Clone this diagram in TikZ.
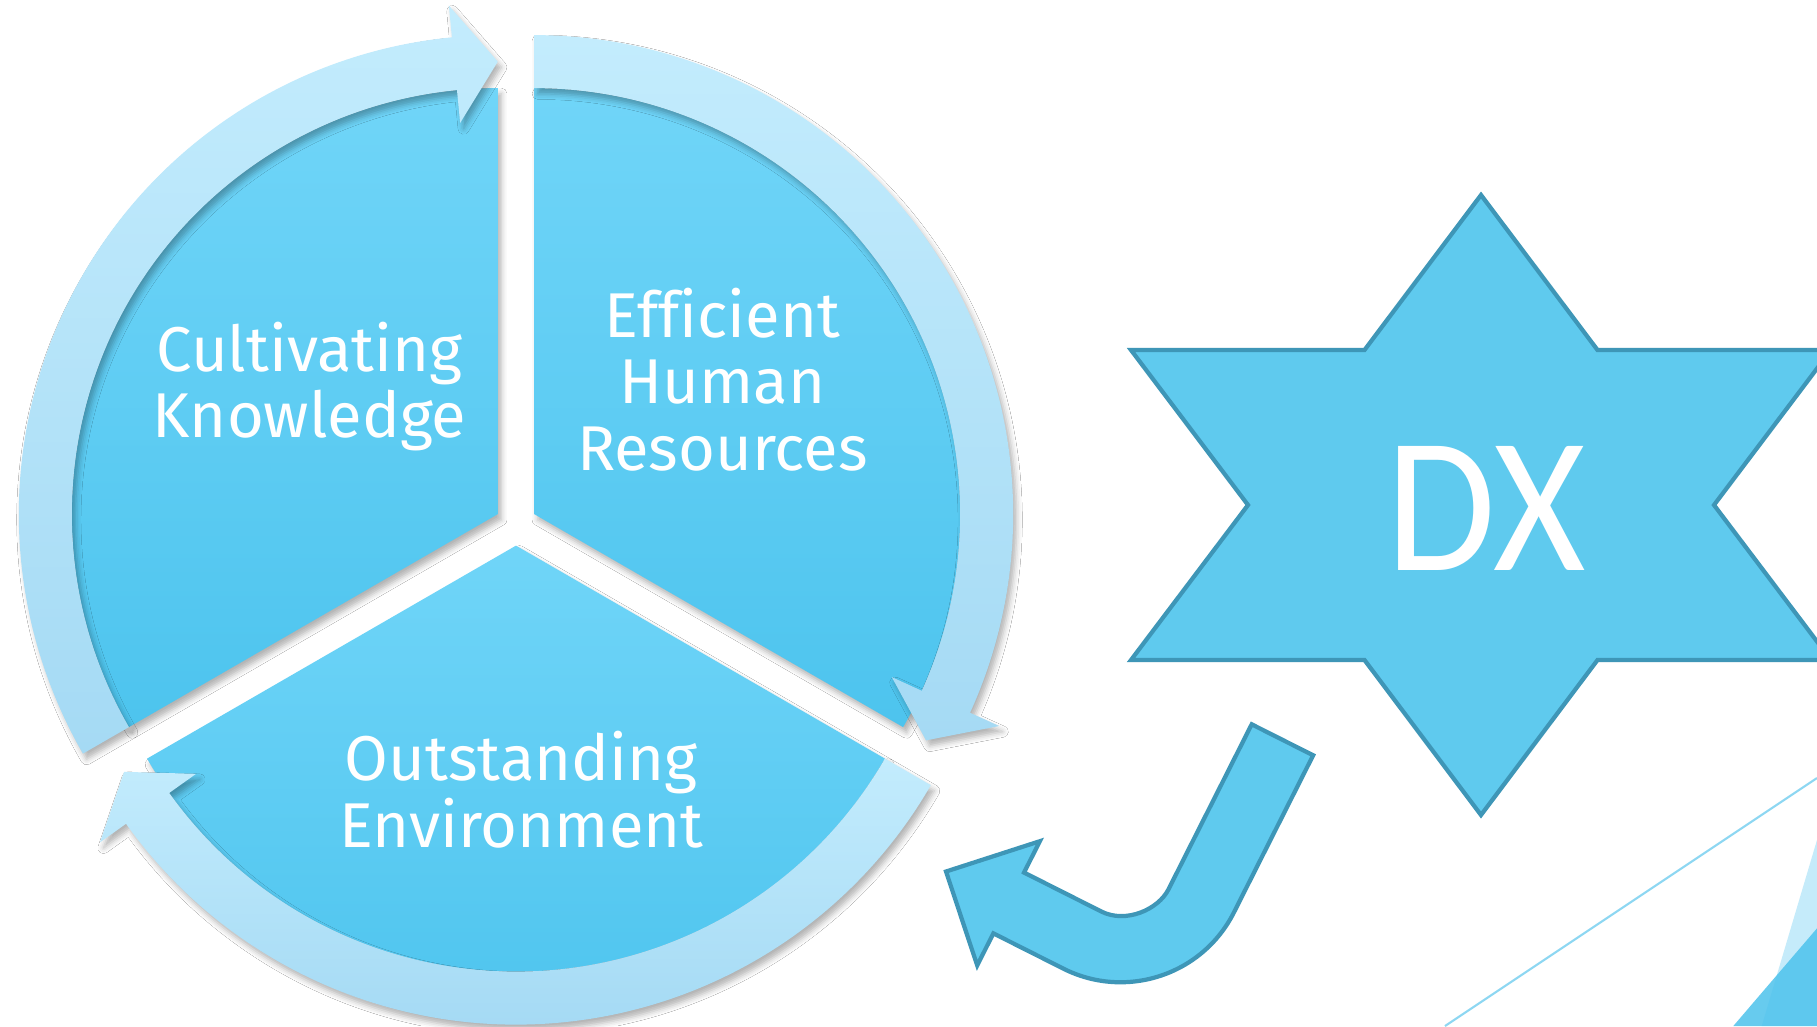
\documentclass[tikz,border=0pt]{standalone}
\usepackage{fontspec}
\setmainfont[Ligatures=NoCommon]{Fira Sans}
\newfontfamily\dxfont{Carlito}
\usetikzlibrary{shadows.blur}
\definecolor{segtop}{HTML}{70D5F8}
\definecolor{segbot}{HTML}{4DC4EE}
\definecolor{bandtop}{HTML}{C3ECFD}
\definecolor{bandbot}{HTML}{A5DAF4}
\definecolor{starfill}{HTML}{5FCAEE}
\definecolor{starline}{HTML}{3E96B7}
\definecolor{decoline}{HTML}{8DD7F2}
\definecolor{tria}{HTML}{C5EBFA}
\definecolor{trib}{HTML}{4DC2EC}
\tikzset{
  softshadow/.style={blur shadow={shadow xshift=1pt, shadow yshift=-1.6pt, shadow blur radius=1.6pt, shadow opacity=30}},
  segshade/.style={softshadow, top color=segtop, bottom color=segbot},
  bandshade/.style={softshadow, top color=bandtop, bottom color=bandbot},
  lbl/.style={text=white, font=\fontsize{18}{20}\selectfont, inner sep=0pt, anchor=base},
  outlined/.style={fill=starfill, draw=starline, line width=1.2pt}
}
\begin{document}
\begin{tikzpicture}[x=0.01cm, y=0.01cm]
\useasboundingbox (0,-1026) rectangle (1817,0);
\fill[white] (0,-1026) rectangle (1817,0);

% corner decoration
\draw[decoline, line width=0.6pt] (1445,-1026) -- (1817,-778);
\fill[tria] (1817,-840) -- (1761.7,-1026) -- (1817,-1026) -- cycle;
\fill[trib, opacity=0.85] (1817,-928.3) -- (1733.3,-1026) -- (1817,-1026) -- cycle;

% segmented cycle
\begin{scope}[shift={(516,-524.6)}]
  \foreach \th in {150,30,270}{
    \begin{scope}[shift={(\th:21)}]
      \path[segshade] (0,0) -- ({\th+60}:426) arc[start angle=\th+60, end angle=\th-60, radius=426] -- cycle;
    \end{scope}
  }
  \foreach \th in {150,30,270}{
    \begin{scope}[shift={(\th:21)}]
      \path[bandshade] ({\th+60}:479) arc[start angle=\th+60, end angle=\th-54.5, radius=479]
        -- ({\th-54.5}:511) -- ({\th-60}:452.5) -- ({\th-54.5}:393) -- ({\th-54.5}:426)
        arc[start angle=\th-54.5, end angle=\th+60, radius=426] -- cycle;
    \end{scope}
  }
\end{scope}

\node[lbl] (ck1) at (309.5,-371) {Cultivating};
\node[lbl] (ck2) at (309.5,-437.5) {Knowledge};
\node[lbl] (eh1) at (722.5,-337) {Efficient};
\node[lbl] (eh2) at (722.5,-403.5) {Human};
\node[lbl] (eh3) at (722.5,-470) {Resources};
\node[lbl] (oe1) at (521,-780) {Outstanding};
\node[lbl] (oe2) at (521.5,-847) {Environment};

% star
\path[outlined] (1481,-195) -- (1597.5,-350) -- (1831,-350) -- (1714,-505) -- (1831,-660)
  -- (1597.5,-660) -- (1481,-815) -- (1364.5,-660) -- (1131,-660) -- (1248,-505)
  -- (1131,-350) -- (1364.5,-350) -- cycle;
\node[text=white, font=\dxfont\fontsize{55}{60}\selectfont, inner sep=0pt, anchor=base] (dx) at (1486,-570) {\scalebox{0.92}[1]{DX}};

% u-turn arrow
\begin{scope}[shift={(1251.7,-724.3)}, x={(0.008933cm,-0.004496cm)}, y={(-0.004496cm,-0.008933cm)}]
  \path[outlined] (0,0) -- (68.8,0) -- (68.8,176)
    .. controls (68.8,246.1) and (11.9,302.9) .. (-58.2,302.9)
    -- (-136.5,302.9) -- (-136.5,338.8) -- (-206.6,269) -- (-136.5,199.7) -- (-136.5,234.8)
    -- (-50,234.8) .. controls (-22.4,234.8) and (0,207.2) .. (0,184.8) -- cycle;
\end{scope}
\end{tikzpicture}
\end{document}
